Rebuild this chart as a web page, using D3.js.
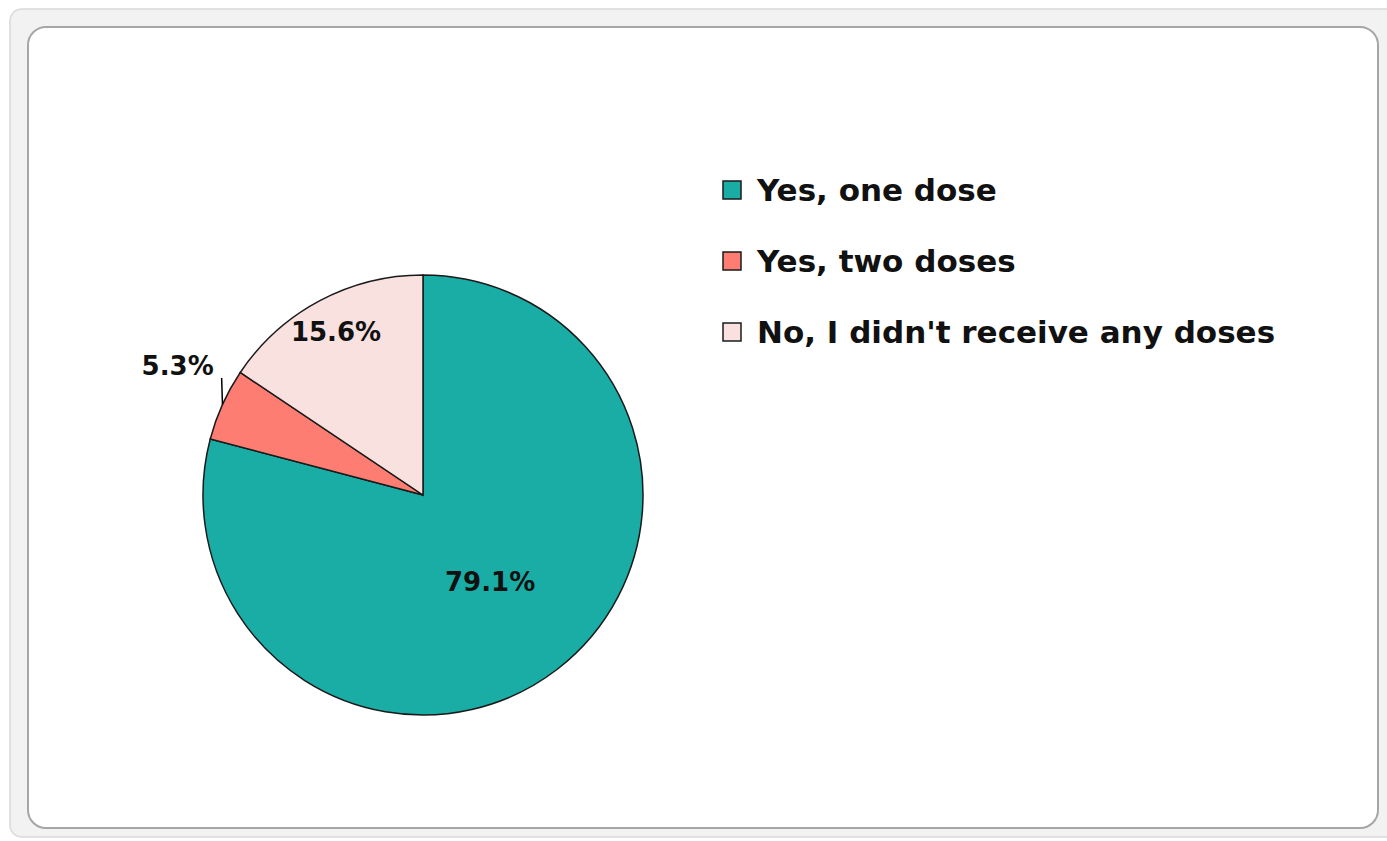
<!DOCTYPE html>
<html>
<head>
<meta charset="utf-8">
<script src="https://cdn.jsdelivr.net/npm/d3@7"></script>
<style>
  body { margin: 0; background: #fff; }
  text { font-family: "DejaVu Sans", Verdana, sans-serif; font-weight: bold; }
</style>
</head>
<body>
<div id="chart"></div>
<script>
// Chart data
const categories = ["Yes, one dose", "Yes, two doses", "No, I didn't receive any doses"];
const values = [79.1, 5.3, 15.6];
const labels = ["79.1%", "5.3%", "15.6%"];
const colors = ["#19ADA6", "#FD7D73", "#F8E1DF"];

const width = 1387, height = 841;

const svg = d3.select("#chart")
    .append("svg")
    .attr("width", width)
    .attr("height", height);

// Frame (outer grey band + inner border)
svg.append("rect")
    .attr("x", 10).attr("y", 9)
    .attr("width", 1390).attr("height", 828)
    .attr("rx", 12)
    .attr("fill", "#f2f2f2")
    .attr("stroke", "#d9d9d9")
    .attr("stroke-width", 1.5);

svg.append("rect")
    .attr("x", 28).attr("y", 27)
    .attr("width", 1350).attr("height", 801)
    .attr("rx", 18)
    .attr("fill", "#fff")
    .attr("stroke", "#a6a6a6")
    .attr("stroke-width", 2);

// Pie
const cx = 423, cy = 495, r = 220;
const g = svg.append("g").attr("transform", `translate(${cx},${cy})`);

const pie = d3.pie().sort(null).value(d => d);
const arcs = pie(values);
const arc = d3.arc().innerRadius(0).outerRadius(r);

g.selectAll("path.slice")
    .data(arcs)
    .enter()
    .append("path")
    .attr("class", "slice")
    .attr("d", arc)
    .attr("fill", (d, i) => colors[i])
    .attr("stroke", "#1a1a1a")
    .attr("stroke-width", 1.5);

// Data labels: big slice inside near middle, small slice outside with leader line
function labelPos(d) {
    const mid = (d.startAngle + d.endAngle) / 2;
    const share = d.value / d3.sum(values);
    let rr, a = mid;
    if (share > 0.5) rr = 0.5 * r;
    else if (share < 0.1) { rr = 1.26 * r; a = mid + 0.06; }
    else rr = 0.84 * r;
    return [rr * Math.sin(a), -rr * Math.cos(a)];
}

arcs.forEach((d, i) => {
    const share = d.value / d3.sum(values);
    const [lx, ly] = labelPos(d);
    if (share < 0.1) {
        const mid = (d.startAngle + d.endAngle) / 2;
        g.append("path")
            .attr("d", d3.line()([
                [r * Math.sin(mid), -r * Math.cos(mid)],
                [lx + 44, ly + 12]
            ]))
            .attr("stroke", "#000")
            .attr("stroke-width", 1.5)
            .attr("fill", "none");
    }
    g.append("text")
        .attr("x", lx)
        .attr("y", ly)
        .attr("text-anchor", "middle")
        .attr("dominant-baseline", "central")
        .style("font-size", "26px")
        .attr("fill", "#111")
        .text(labels[i]);
});

// Legend
const legend = svg.append("g").attr("transform", "translate(723,190)");
categories.forEach((c, i) => {
    const item = legend.append("g").attr("transform", `translate(0, ${i * 71})`);
    item.append("rect")
        .attr("x", 0).attr("y", -9)
        .attr("width", 18).attr("height", 18)
        .attr("fill", colors[i])
        .attr("stroke", "#1a1a1a")
        .attr("stroke-width", 1.5);
    item.append("text")
        .attr("x", 34)
        .attr("y", 0)
        .attr("dominant-baseline", "central")
        .style("font-size", "31px")
        .attr("fill", "#111")
        .text(c);
});
</script>
</body>
</html>
